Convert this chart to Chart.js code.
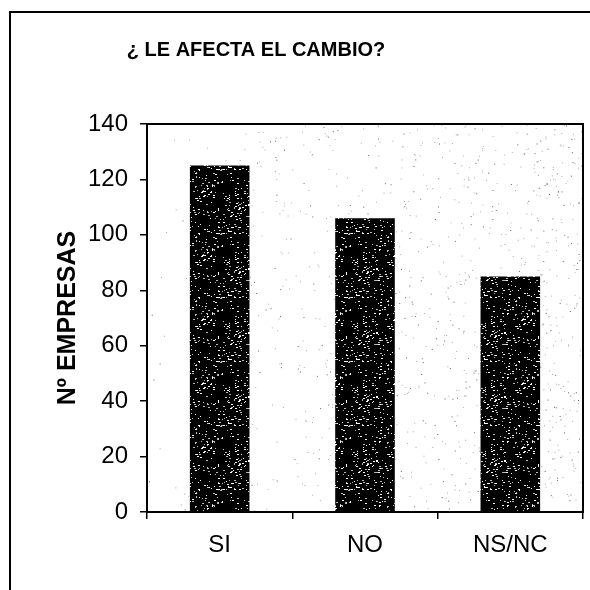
<!DOCTYPE html>
<html>
<head>
<meta charset="utf-8">
<script src="https://cdn.jsdelivr.net/npm/chart.js@4/dist/chart.umd.min.js"></script>
<style>
  html, body { margin: 0; padding: 0; background: #fff; }
  #wrap { width: 590px; height: 590px; }
</style>
</head>
<body>
<div id="wrap"><canvas id="grafico" width="590" height="590"></canvas></div>
<script>
const categorias = ['SI', 'NO', 'NS/NC'];
const empresas = [125, 106, 85];
const titulo = '¿ LE AFECTA EL CAMBIO?';
const tituloEje = 'Nº EMPRESAS';

// small seeded generator, only for the scanned-speckle texture
let semilla = 7;
function azar() {
    semilla = (semilla * 16807) % 2147483647;
    return (semilla - 1) / 2147483646;
}

function texturaBarra() {
    const c = document.createElement('canvas');
    c.width = 64; c.height = 64;
    const g = c.getContext('2d');
    g.fillStyle = '#000';
    g.fillRect(0, 0, 64, 64);
    for (let i = 0; i < 240; i++) {
        g.fillStyle = azar() < 0.5 ? '#fff' : '#bbb';
        g.fillRect(Math.floor(azar() * 64), Math.floor(azar() * 64), 1 + Math.floor(azar() * 2), 1);
    }
    return g.createPattern(c, 'repeat');
}

const puntos = [];
for (let i = 0; i < 1100; i++) {
    const fx = Math.pow(azar(), 0.55);
    puntos.push([fx, azar(), azar() < 0.3 ? '#666' : '#aaa']);
}

const marco = {
    id: 'marco',
    beforeDatasetsDraw(chart) {
        const { ctx, chartArea: a } = chart;
        ctx.save();
        puntos.forEach(p => {
            ctx.fillStyle = p[2];
            ctx.fillRect(a.left + p[0] * a.width, a.top + p[1] * a.height, 1, 1);
        });
        ctx.restore();
    },
    afterDraw(chart) {
        const { ctx, chartArea: a } = chart;
        ctx.save();
        ctx.strokeStyle = '#000';
        ctx.lineWidth = 2;
        ctx.strokeRect(a.left, a.top, a.width, a.height);
        ctx.beginPath();
        ctx.moveTo(10, 590);
        ctx.lineTo(10, 12);
        ctx.lineTo(590, 12);
        ctx.stroke();
        ctx.fillStyle = '#000';
        ctx.font = 'bold 20px "Liberation Sans", Arial, sans-serif';
        ctx.textAlign = 'center';
        ctx.textBaseline = 'middle';
        ctx.fillText(titulo, 256, 50);
        ctx.restore();
    }
};

new Chart(document.getElementById('grafico').getContext('2d'), {
    type: 'bar',
    data: {
        labels: categorias,
        datasets: [{
            label: tituloEje,
            data: empresas,
            backgroundColor: texturaBarra(),
            borderWidth: 0,
            categoryPercentage: 0.41,
            barPercentage: 1,
        }],
    },
    options: {
        responsive: false,
        animation: false,
        layout: { padding: { top: 124, right: 7, left: 0, bottom: 0 } },
        plugins: { legend: { display: false }, tooltip: { enabled: false } },
        scales: {
            x: {
                afterFit: s => { s.height = 78; },
                grid: { display: true, drawOnChartArea: false, color: '#000', tickLength: 7, lineWidth: 1.5 },
                border: { display: false },
                ticks: { color: '#000', padding: 12, font: { family: '"Liberation Sans", Arial', size: 24 } },
            },
            y: {
                min: 0, max: 140,
                afterFit: s => { s.width = 147; },
                grid: { display: true, drawOnChartArea: false, color: '#000', tickLength: 7, lineWidth: 1.5 },
                border: { display: false },
                ticks: { stepSize: 20, color: '#000', padding: 12, font: { family: '"Liberation Sans", Arial', size: 24 } },
                title: {
                    display: true, text: tituloEje, color: '#000', padding: { top: 53, bottom: 0 },
                    font: { family: '"Liberation Sans", Arial', size: 25, weight: 'bold' },
                },
            },
        },
    },
    plugins: [marco],
});
</script>
</body>
</html>
